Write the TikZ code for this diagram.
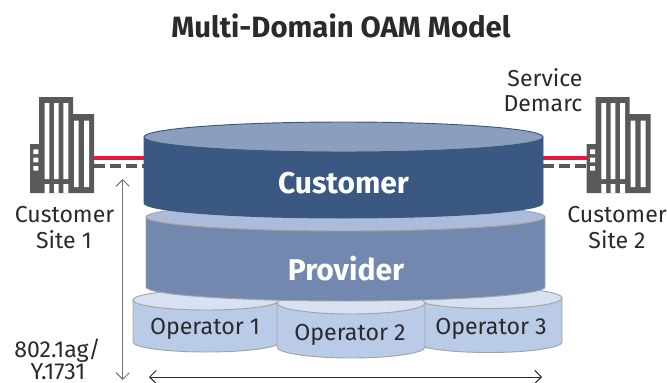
\documentclass[tikz,border=0pt]{standalone}
\usepackage{fontspec}
\setmainfont{Fira Sans}
\definecolor{custtop}{HTML}{8A9FBC}
\definecolor{custside}{HTML}{3B5883}
\definecolor{provtop}{HTML}{ABBBD9}
\definecolor{provside}{HTML}{7388AF}
\definecolor{optop}{HTML}{D8E1F1}
\definecolor{opside}{HTML}{B9CBE6}
\definecolor{edgegray}{HTML}{A3A3A3}
\definecolor{bldg}{HTML}{595959}
\definecolor{inkdark}{HTML}{2A2A2E}
\definecolor{redline}{HTML}{E8173F}
% #1 cx, #2 top-centre y, #3 side end y, #4 rx, #5 ry, #6 side, #7 top, #8 edge
\newcommand{\drum}[8]{
  \path[fill=#6,draw=#8,line width=.7pt] (#1-#4,#2) -- (#1-#4,#3) arc[start angle=180,end angle=360,x radius=#4,y radius=-#5] -- (#1+#4,#2) -- cycle;
  \path[fill=#7,draw=#8,line width=.7pt] (#1,#2) ellipse[x radius=#4,y radius=#5];
}
\newcommand{\tower}[1]{
  \begin{scope}[xshift=#1*0.75pt]
    \fill[bldg] (39,97) rectangle (73,114) (39,114) rectangle (94,193) (30,144) rectangle (39,193);
    \fill[white] (44.7,103) rectangle (49.3,179) (54,103) rectangle (58.7,179) (63.3,103) rectangle (68.3,179)
      (44.7,184) rectangle (49.3,193) (54,184) rectangle (58.7,193) (63.3,184) rectangle (68.3,193)
      (74,120.7) rectangle (78.7,187) (84,120.7) rectangle (89,187)
      (33.3,149.3) rectangle (38.3,154) (33.3,157.7) rectangle (38.3,162.3) (33.3,166) rectangle (38.3,170.7);
  \end{scope}
}
\tikzset{
  lbl/.style={font=\fontsize{17.3}{19}\selectfont,text=inkdark,inner sep=0pt,align=center},
  drumlbl/.style={font=\fontsize{17.4}{19}\selectfont,text=inkdark,inner sep=0pt},
  heavy/.style={font=\fontsize{22.5}{24}\selectfont\bfseries,text=white,inner sep=0pt},
  tipline/.style={line width=.7pt}
}
\usetikzlibrary{arrows.meta}
\begin{document}
\begin{tikzpicture}[x=0.75pt,y=-0.75pt]
\useasboundingbox (0,0) rectangle (667,382);
\clip (0,0) rectangle (667,382);
\tower{0}
\tower{556.7}
\coordinate (leftb1) at (94,158); \coordinate (leftb2) at (94,166);
\coordinate (rightb1) at (587,158); \coordinate (rightb2) at (587,166);
\coordinate (custl1) at (144,158); \coordinate (custl2) at (144,166);
\coordinate (custr1) at (543,158); \coordinate (custr2) at (543,166);
\draw[redline,line width=2.4pt] (leftb1) -- (custl1);
\draw[redline,line width=2.4pt] (custr1) -- (rightb1);
\draw[bldg,line width=2.4pt,dash pattern=on 8pt off 4pt] (leftb2) -- (custl2);
\draw[bldg,line width=2.4pt,dash pattern=on 8pt off 4pt] (custr2) -- (rightb2);
\drum{206.5}{300}{342}{73.5}{10}{opside}{optop}{edgegray}
\drum{488.5}{298}{342}{73.5}{10.5}{opside}{optop}{edgegray}
\drum{351}{303}{347}{74}{11}{opside}{optop}{edgegray}
\drum{345.5}{217}{287}{199.5}{14}{provside}{provtop}{edgegray}
\drum{343.5}{137}{203}{199.5}{15}{custside}{custtop}{custside}
\node[heavy] (customer) at (343.5,183) {Customer};
\node[heavy] (provider) at (346,269) {Provider};
\node[drumlbl] (op1) at (205,329) {Operator 1};
\node[drumlbl] (op2) at (350,335) {Operator 2};
\node[drumlbl] (op3) at (491,329) {Operator 3};
\node[font=\fontsize{22}{24}\selectfont\bfseries,text=inkdark,inner sep=0pt] (title) at (341,26) {Multi-Domain OAM Model};
\node[lbl] (site1a) at (64.5,215) {Customer};
\node[lbl] (site1b) at (64,240) {Site 1};
\node[lbl] (site2a) at (617,215) {Customer};
\node[lbl] (site2b) at (617,240) {Site 2};
\node[lbl] (dem1) at (545,78) {Service};
\node[lbl] (dem2) at (543,104) {Demarc};
\node[lbl] (std1) at (57.5,351) {802.1ag/};
\node[lbl] (std2) at (58,371.5) {Y.1731};
\coordinate (vtop) at (122.7,179); \coordinate (vbot) at (122.7,380);
\coordinate (hleft) at (149,377); \coordinate (hright) at (542,377);
\draw[tipline,<->,>={Straight Barb[length=5pt,width=10pt]},draw=bldg!85] (vtop) -- (vbot);
\draw[tipline,<->,>={Straight Barb[length=5pt,width=10pt]},draw=inkdark] (hleft) -- (hright);
\end{tikzpicture}
\end{document}
